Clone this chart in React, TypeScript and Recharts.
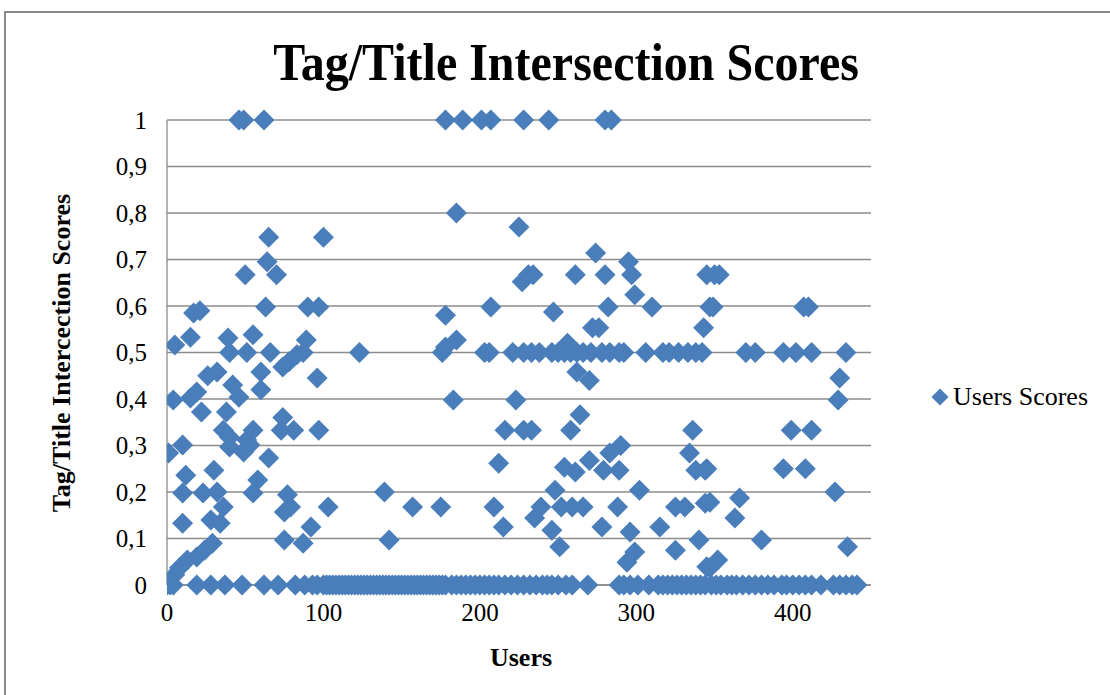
import React from "react";
import { ScatterChart, Scatter, XAxis, YAxis, CartesianGrid } from "recharts";

// Users whose score is 0
const usersAtZero: number[] = [
  0, 2, 4, 19, 28, 37, 48, 62, 71, 82, 88, 93, 96,
  100, 102, 104, 106, 108, 110, 112, 114, 116, 118, 120, 122, 124, 126, 128, 130,
  132, 134, 136, 138, 140, 142, 144, 146, 148, 150, 152, 154, 156, 158, 160, 162,
  164, 166, 168, 170, 172, 174, 176, 178,
  182, 185, 188, 191, 194, 197, 200, 203, 206, 209, 212, 216, 220, 224, 228, 232,
  236, 240, 243, 246, 250, 255, 259, 269, 289, 292, 296, 301, 308, 314, 317, 320,
  323, 326, 329, 332, 335, 338, 341, 344, 348, 351, 354, 358, 361, 364, 368, 372,
  376, 380, 384, 388, 393, 396, 400, 404, 408, 412, 418, 426, 430, 434, 438, 441,
];

// Users whose score is 0.5
const usersAtHalf: number[] = [
  40, 51, 66, 87, 123, 176, 203, 206, 221, 228, 233, 238, 246, 250, 254, 258, 262,
  266, 271, 278, 283, 289, 292, 306, 317, 321, 327, 333, 338, 342, 370, 376, 394,
  402, 412, 434,
];

// Users whose score is 1
const usersAtOne: number[] = [46, 49, 62, 178, 189, 201, 207, 228, 244, 280, 284];

// Remaining users: [user, score]
const otherUsers: [number, number][] = [
  [5, 0.022], [8, 0.037], [13, 0.054], [19, 0.06], [24, 0.075], [29, 0.09],
  [5, 0.516], [15, 0.533], [39, 0.531], [55, 0.538], [89, 0.527],
  [74, 0.469], [78, 0.48], [83, 0.495], [96, 0.445],
  [26, 0.45], [32, 0.458], [60, 0.458], [42, 0.43], [46, 0.404], [60, 0.42],
  [4, 0.398], [15, 0.402], [19, 0.415], [22, 0.372], [38, 0.372],
  [36, 0.333], [40, 0.318], [55, 0.333], [51, 0.312],
  [74, 0.36], [73, 0.333], [81, 0.333], [97, 0.333],
  [1, 0.284], [10, 0.301], [40, 0.297], [49, 0.286], [53, 0.301], [65, 0.273],
  [12, 0.236], [10, 0.198], [30, 0.247], [23, 0.198], [32, 0.2], [36, 0.168],
  [58, 0.226], [55, 0.198], [77, 0.194], [75, 0.157], [79, 0.168], [103, 0.168],
  [10, 0.133], [28, 0.14], [34, 0.133], [92, 0.125], [75, 0.097], [87, 0.09],
  [65, 0.748], [100, 0.748], [64, 0.695], [70, 0.667], [50, 0.667],
  [63, 0.598], [90, 0.598], [97, 0.598], [17, 0.585], [21, 0.59],
  [185, 0.8], [225, 0.77], [227, 0.652], [231, 0.667], [178, 0.58], [207, 0.598],
  [178, 0.512], [185, 0.527], [183, 0.398], [223, 0.398], [216, 0.333], [228, 0.333],
  [212, 0.262], [139, 0.2], [157, 0.168], [175, 0.168], [209, 0.168], [215, 0.125],
  [142, 0.097],
  [274, 0.714], [295, 0.695], [297, 0.667], [234, 0.667], [261, 0.667], [280, 0.667],
  [299, 0.624], [247, 0.587], [282, 0.598], [310, 0.598], [345, 0.667], [347, 0.598],
  [272, 0.553], [276, 0.553], [343, 0.553], [256, 0.52], [262, 0.458], [270, 0.44],
  [233, 0.333], [264, 0.366], [258, 0.333], [336, 0.333], [290, 0.3], [283, 0.284],
  [270, 0.268], [254, 0.253], [261, 0.243], [279, 0.247], [289, 0.247],
  [334, 0.284], [338, 0.247], [344, 0.247], [302, 0.204], [248, 0.204],
  [239, 0.168], [235, 0.144], [252, 0.168], [259, 0.168], [266, 0.168], [288, 0.168],
  [325, 0.168], [331, 0.168], [344, 0.176], [246, 0.118], [251, 0.082],
  [278, 0.125], [296, 0.114], [315, 0.125], [340, 0.097], [325, 0.075], [299, 0.071],
  [294, 0.049], [345, 0.039],
  [350, 0.667], [353, 0.667], [349, 0.598], [407, 0.598], [410, 0.598],
  [430, 0.445], [429, 0.398], [399, 0.333], [412, 0.333],
  [345, 0.25], [394, 0.25], [408, 0.25], [427, 0.2],
  [347, 0.178], [366, 0.187], [363, 0.144], [380, 0.097], [435, 0.082],
  [352, 0.054], [347, 0.037],
];

const xTicks = [0, 100, 200, 300, 400];
const yTicks = [0, 0.1, 0.2, 0.3, 0.4, 0.5, 0.6, 0.7, 0.8, 0.9, 1];

const seriesName = "Users Scores";
const chartTitle = "Tag/Title Intersection Scores";
const xTitle = "Users";
const yTitle = "Tag/Title Intercection Scores";

const BLUE = "#4A7EBB";
const GRID = "#8c8c8c";
const FONT = "'Liberation Serif', 'Times New Roman', serif";

const points = [
  ...usersAtZero.map((u) => ({ user: u, score: 0 })),
  ...usersAtHalf.map((u) => ({ user: u, score: 0.5 })),
  ...usersAtOne.map((u) => ({ user: u, score: 1 })),
  ...otherUsers.map(([u, s]) => ({ user: u, score: s })),
];

const R = 10.5;
const Diamond = (props: any) => {
  const { cx, cy } = props;
  if (cx == null || cy == null) return null;
  return (
    <path
      d={`M${cx},${cy - R}L${cx + R},${cy}L${cx},${cy + R}L${cx - R},${cy}Z`}
      fill={BLUE}
    />
  );
};

const fmtY = (v: number) => String(Math.round(v * 10) / 10).replace(".", ",");

export default function App() {
  return (
    <div
      style={{
        position: "fixed",
        left: 0,
        top: 0,
        width: 1110,
        height: 695,
        overflow: "hidden",
        background: "#fff",
        fontFamily: FONT,
      }}
    >
      <div
        style={{
          position: "absolute",
          left: 4,
          top: 11,
          width: 1200,
          height: 800,
          borderLeft: `2px solid #8a8a8a`,
          borderTop: `2px solid #8a8a8a`,
        }}
      />
      <div style={{ position: "absolute", left: 0, top: 0 }}>
        <ScatterChart
          width={1110}
          height={695}
          margin={{ top: 120, right: 239, bottom: 80, left: 107 }}
        >
          <CartesianGrid vertical={false} stroke={GRID} strokeWidth={1.3} />
          <XAxis
            type="number"
            dataKey="user"
            domain={[0, 450]}
            ticks={xTicks}
            allowDataOverflow
            height={30}
            tickLine={false}
            tickSize={0}
            tickMargin={18}
            axisLine={{ stroke: GRID, strokeWidth: 1.3 }}
            tick={{ fill: "#000", fontSize: 25, fontFamily: FONT }}
          />
          <YAxis
            type="number"
            dataKey="score"
            domain={[0, 1]}
            ticks={yTicks}
            width={60}
            tickLine={false}
            tickSize={0}
            tickMargin={20}
            tickFormatter={fmtY}
            axisLine={{ stroke: GRID, strokeWidth: 1.3 }}
            tick={{ fill: "#000", fontSize: 25, fontFamily: FONT }}
          />
          <Scatter
            name={seriesName}
            data={points}
            shape={Diamond}
            fill={BLUE}
            isAnimationActive={false}
          />
        </ScatterChart>
      </div>
      <div
        style={{
          position: "absolute",
          left: 0,
          width: 1132,
          top: 40,
          textAlign: "center",
          fontSize: 48,
          lineHeight: "48px",
          fontWeight: "bold",
          whiteSpace: "nowrap",
          transform: "scaleY(1.12)",
          transformOrigin: "50% 40px",
        }}
      >
        {chartTitle}
      </div>
      <div
        style={{
          position: "absolute",
          left: 62 - 250,
          top: 353 - 13,
          width: 500,
          height: 26,
          textAlign: "center",
          fontSize: 26,
          lineHeight: "26px",
          fontWeight: "bold",
          whiteSpace: "nowrap",
          transform: "rotate(-90deg)",
        }}
      >
        {yTitle}
      </div>
      <div
        style={{
          position: "absolute",
          left: 521 - 100,
          width: 200,
          top: 645,
          textAlign: "center",
          fontSize: 26,
          lineHeight: "26px",
          fontWeight: "bold",
        }}
      >
        {xTitle}
      </div>
      <div
        style={{
          position: "absolute",
          left: 930,
          top: 384,
          display: "flex",
          alignItems: "center",
          fontSize: 26,
          lineHeight: "26px",
          whiteSpace: "nowrap",
        }}
      >
        <svg width={20} height={20} style={{ marginRight: 3 }}>
          <path d="M10,1.5L18.5,10L10,18.5L1.5,10Z" fill={BLUE} />
        </svg>
        {seriesName}
      </div>
    </div>
  );
}
